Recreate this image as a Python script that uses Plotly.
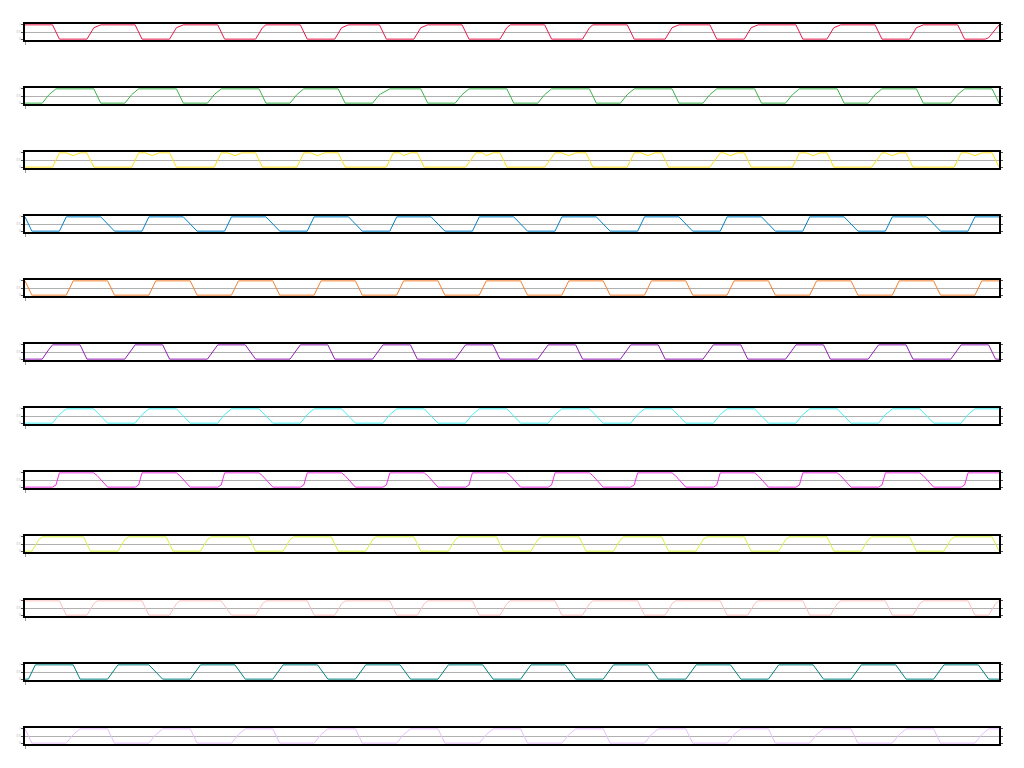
import plotly.graph_objects as go
from plotly.subplots import make_subplots

# hours since start
red = [(0,1),(8,1),(10,0),(18,0),(20,0.8),(22,1),
(32,1),(34,0),(42,0),(44,0.8),(46,1),
(56,1),(58,0),(67,0),(69,0.8),(70,1),
(80,1),(82,0),(90,0),(92,0.8),(94,1),
(103,1),(105,0),(113,0),(115,0.8),(117,1),
(127,1),(129,0),(138,0),(140,0.8),(141,1),
(151,1),(153,0),(162,0),(164,0.8),(165,1),
(175,1),(177,0),(186,0),(188,0.8),(190,1),
(199,1),(201,0),(209,0),(211,0.8),(213,1),
(224,1),(226,0),(233,0),(235,0.8),(237,1),
(247,1),(249,0),(257,0),(259,0.8),(261,1),
(271,1),(273,0),(279,0),(280,0.1),(283,1)]

green = [(0,0),(5,0),(7,0.6),(9,1),(20,1),(22,0),
(29,0),(31,0.6),(33,1),(44,1),(46,0),
(53,0),(55,0.6),(57,1),(68,1),(70,0),
(77,0),(79,0.6),(81,1),(91,1),(93,0),
(101,0),(103,0.6),(106,1),(115,1),(117,0),
(125,0),(127,0.6),(129,1),(140,1),(142,0),
(149,0),(151,0.6),(153,1),(164,1),(166,0),
(173,0),(175,0.6),(177,1),(188,1),(190,0),
(197,0),(199,0.6),(201,1),(212,1),(214,0),
(221,0),(223,0.6),(225,1),(236,1),(238,0),
(245,0),(247,0.6),(249,1),(259,1),(261,0),
(269,0),(271,0.6),(273,1),(281,1),(283,0)]

gold = [(0,0),(8,0),(10,1),(12,1),(14,0.8),(16,1),(18,1),(20,0),
(31,0),(33,1),(35,1),(37,0.8),(39,1),(42,1),(44,0),
(55,0),(57,1),(59,1),(61,0.8),(63,1),(67,1),(69,0),
(79,0),(81,1),(83,1),(85,0.8),(87,1),(91,1),(93,0),
(105,0),(107,1),(109,1),(110,0.8),(112,1),(114,1),(116,0),
(128,0),(131,1),(133,1),(134,0.8),(136,1),(138,1),(140,0),
(151,0),(154,1),(156,1),(158,0.8),(160,1),(163,1),(165,0),
(175,0),(177,1),(179,1),(181,0.8),(183,1),(185,1),(187,0),
(199,0),(202,1),(203,1),(205,0.8),(207,1),(209,1),(211,0),
(223,0),(225,1),(227,1),(229,0.8),(231,1),(233,1),(235,0),
(246,0),(249,1),(250,1),(252,0.8),(254,1),(256,1),(258,0),
(270,0),(272,1),(274,1),(276,0.8),(278,1),(281,1),(283,0)]

blue = [(0,1),(2,0),(10,0),(12,1),(22,1),(26,0),
(34,0),(36,1),(46,1),(50,0),
(58,0),(60,1),(70,1),(74,0),
(82,0),(84,1),(94,1),(98,0),
(106,0),(108,1),(118,1),(122,0),
(130,0),(132,1),(142,1),(146,0),
(154,0),(156,1),(166,1),(170,0),
(178,0),(180,1),(190,1),(194,0),
(202,0),(204,1),(214,1),(218,0),
(226,0),(228,1),(238,1),(242,0),
(250,0),(252,1),(262,1),(266,0),
(274,0),(276,1),(283,1)]

orange = [(0,1),(2,0),(12,0),(14,1),(24,1),(26,0),
(36,0),(38,1),(48,1),(50,0),
(60,0),(62,1),(72,1),(74,0),
(84,0),(86,1),(96,1),(98,0),
(108,0),(110,1),(120,1),(122,0),
(132,0),(134,1),(144,1),(146,0),
(156,0),(158,1),(168,1),(170,0),
(180,0),(182,1),(192,1),(194,0),
(204,0),(206,1),(216,1),(218,0),
(228,0),(230,1),(240,1),(242,0),
(252,0),(254,1),(264,1),(266,0),
(276,0),(278,1),(283,1)]

purple = [(0,0),(5,0),(7,0.7),(8,1),(16,1),(18,0),
(29,0),(31,0.7),(32,1),(40,1),(42,0),
(53,0),(55,0.7),(56,1),(64,1),(67,0),
(77,0),(79,0.7),(80,1),(88,1),(90,0),
(101,0),(103,0.7),(104,1),(112,1),(114,0),
(125,0),(127,0.7),(128,1),(136,1),(138,0),
(149,0),(151,0.7),(152,1),(160,1),(162,0),
(173,0),(175,0.7),(176,1),(184,1),(186,0),
(197,0),(199,0.7),(200,1),(208,1),(210,0),
(221,0),(223,0.7),(224,1),(232,1),(234,0),
(245,0),(247,0.7),(248,1),(256,1),(258,0),
(269,0),(271,0.7),(272,1),(280,1),(282,0),(283,0)]

cyan = [(0,0),(8,0),(10,0.6),(12,1),(20,1),(24,0),
(32,0),(34,0.6),(36,1),(44,1),(48,0),
(56,0),(58,0.6),(60,1),(68,1),(72,0),
(80,0),(82,0.6),(84,1),(92,1),(96,0),
(104,0),(106,0.6),(108,1),(116,1),(120,0),
(128,0),(130,0.6),(132,1),(140,1),(144,0),
(152,0),(154,0.6),(156,1),(164,1),(168,0),
(176,0),(178,0.6),(180,1),(188,1),(192,0),
(200,0),(202,0.6),(204,1),(212,1),(216,0),
(224,0),(226,0.6),(228,1),(236,1),(240,0),
(248,0),(250,0.6),(252,1),(260,1),(264,0),
(272,0),(274,0.6),(276,1),(283,1)]

magenta = [(0,0),(8,0),(9,0.15),(10,1),(20,1),(21,0.8),(24,0),
(32,0),(33,0.15),(34,1),(44,1),(45,0.8),(48,0),
(56,0),(57,0.15),(58,1),(68,1),(69,0.8),(72,0),
(80,0),(81,0.15),(82,1),(92,1),(93,0.8),(96,0),
(104,0),(105,0.15),(106,1),(116,1),(117,0.8),(120,0),
(128,0),(129,0.15),(130,1),(140,1),(141,0.8),(144,0),
(152,0),(153,0.15),(154,1),(164,1),(165,0.8),(168,0),
(176,0),(177,0.15),(178,1),(188,1),(189,0.8),(192,0),
(200,0),(201,0.15),(202,1),(212,1),(213,0.8),(216,0),
(224,0),(225,0.15),(226,1),(236,1),(237,0.8),(240,0),
(248,0),(249,0.15),(250,1),(260,1),(261,0.8),(264,0),
(272,0),(273,0.15),(274,1),(283,1)]

lime = [(0,0),(2,0),(4,0.8),(5,1),(17,1),(19,0),
(27,0),(29,0.8),(30,1),(41,1),(43,0),
(51,0),(53,0.8),(54,1),(65,1),(67,0),
(75,0),(77,0.8),(78,1),(89,1),(91,0),
(99,0),(101,0.8),(102,1),(113,1),(115,0),
(123,0),(125,0.8),(126,1),(137,1),(139,0),
(147,0),(149,0.8),(150,1),(161,1),(163,0),
(171,0),(173,0.8),(174,1),(185,1),(187,0),
(195,0),(197,0.8),(198,1),(209,1),(211,0),
(219,0),(221,0.8),(222,1),(233,1),(235,0),
(243,0),(245,0.8),(246,1),(257,1),(259,0),
(267,0),(269,0.8),(270,1),(281,1),(283,0)]

pink = [(0,1),(10,1),(12,0),(18,0),(20,0.8),(21,1),
(34,1),(36,0),(42,0),(44,0.8),(45,1),
(57,1),(60,0),(67,0),(69,0.8),(70,1),
(82,1),(84,0),(90,0),(92,0.8),(93,1),
(106,1),(108,0),(114,0),(116,0.8),(117,1),
(130,1),(132,0),(138,0),(140,0.8),(141,1),
(154,1),(156,0),(162,0),(164,0.8),(165,1),
(178,1),(180,0),(186,0),(188,0.8),(189,1),
(202,1),(204,0),(210,0),(212,0.8),(213,1),
(226,1),(228,0),(234,0),(236,0.8),(237,1),
(250,1),(252,0),(258,0),(260,0.8),(261,1),
(274,1),(276,0),(280,0),(282,0.8),(283,1)]

teal = [(0,0),(1,0),(3,1),(14,1),(16,0),
(24,0),(27,1),(36,1),(40,0),
(48,0),(51,1),(61,1),(64,0),
(72,0),(75,1),(85,1),(88,0),
(96,0),(99,1),(109,1),(112,0),
(120,0),(123,1),(133,1),(136,0),
(144,0),(147,1),(157,1),(160,0),
(168,0),(171,1),(181,1),(184,0),
(192,0),(195,1),(205,1),(208,0),
(216,0),(219,1),(229,1),(232,0),
(240,0),(243,1),(253,1),(256,0),
(264,0),(267,1),(277,1),(280,0),(283,0)]

lavender = [(0,1),(2,0),(12,0),(14,0.6),(16,1),(24,1),(26,0),
(36,0),(38,0.6),(40,1),(48,1),(50,0),
(60,0),(62,0.6),(64,1),(72,1),(74,0),
(84,0),(86,0.6),(88,1),(96,1),(98,0),
(108,0),(110,0.6),(112,1),(120,1),(122,0),
(132,0),(134,0.6),(136,1),(144,1),(146,0),
(156,0),(158,0.6),(160,1),(168,1),(170,0),
(180,0),(182,0.6),(184,1),(192,1),(194,0),
(204,0),(206,0.6),(208,1),(216,1),(218,0),
(228,0),(230,0.6),(232,1),(240,1),(242,0),
(252,0),(254,0.6),(256,1),(264,1),(266,0),
(276,0),(278,0.6),(280,1),(283,1)]

series = [red, green, gold, blue, orange, purple, cyan, magenta, lime, pink, teal, lavender]
colors = ["#e6194b", "#3cb44b", "#ffe119", "#0082c8", "#f58231", "#911eb4",
          "#46f0f0", "#f032e6", "#d2f53c", "#fabebe", "#008080", "#e6beff"]
y_ticks = [0, 0.5, 1]
x_ticks = [0]

n = len(series)
fig = make_subplots(rows=n, cols=1, vertical_spacing=48/720)
for i, (s, c) in enumerate(zip(series, colors), start=1):
    fig.add_trace(go.Scatter(x=[p[0] for p in s], y=[p[1] for p in s], mode="lines",
                             line=dict(color=c, width=1), showlegend=False), row=i, col=1)
    fig.update_yaxes(range=[-0.06, 1.06], tickvals=y_ticks, showgrid=True, gridcolor="#b0b0b0",
                     gridwidth=1, zeroline=False, showline=True, linecolor="black", linewidth=1.5,
                     mirror="ticks", ticks="outside", ticklen=2, tickcolor="#555555", tickwidth=1,
                     showticklabels=True, tickfont=dict(size=3, color="#aaaaaa"),
                     automargin=False, row=i, col=1)
    fig.update_xaxes(range=[0, 283], tickvals=x_ticks, showgrid=False, zeroline=False,
                     showline=True, linecolor="black", linewidth=1.5, mirror=True,
                     ticks="outside", ticklen=3, tickcolor="#999999", tickwidth=1,
                     showticklabels=False, automargin=False, row=i, col=1)

fig.update_layout(width=1008, height=752, margin=dict(l=17, r=17, t=16, b=16),
                  paper_bgcolor="white", plot_bgcolor="white")
fig.write_html("out.html")
